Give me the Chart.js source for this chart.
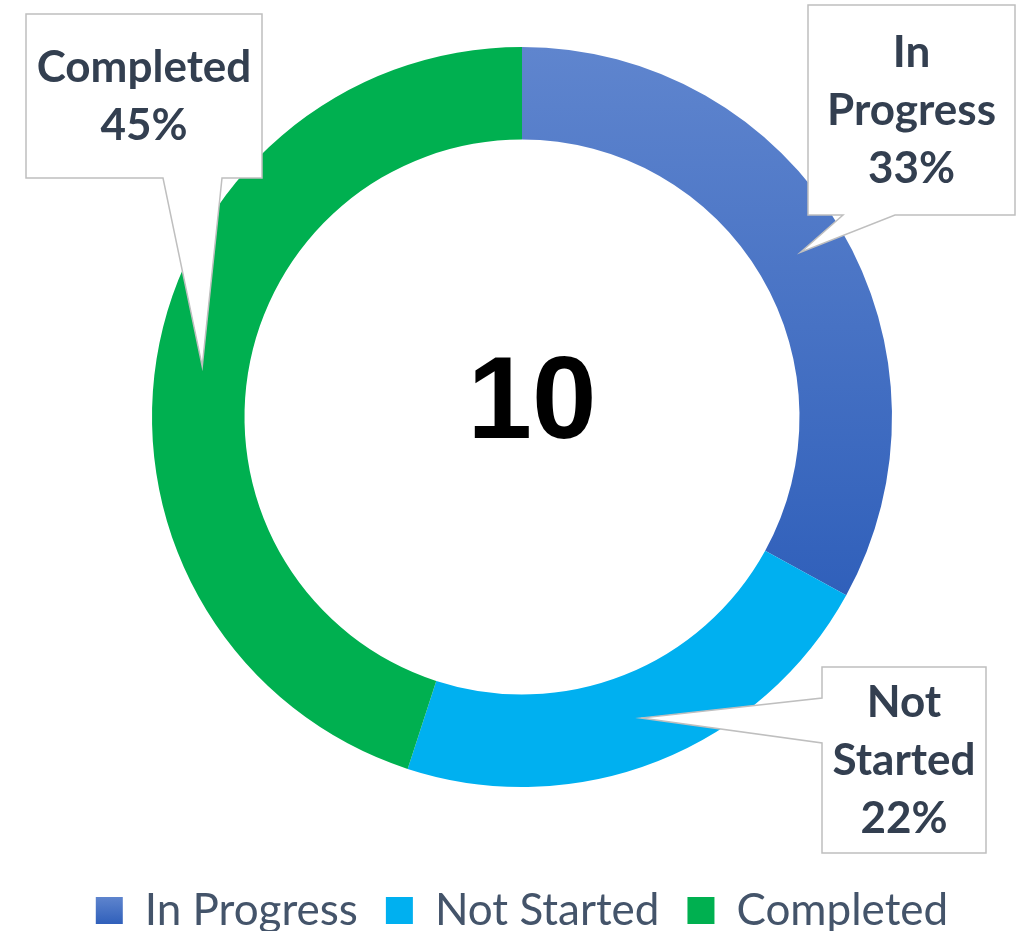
<!DOCTYPE html>
<html lang="en">
<head>
<meta charset="UTF-8">
<title>Task Status</title>
<script src="https://cdn.jsdelivr.net/npm/chart.js"></script>
<style>
  html, body { margin: 0; padding: 0; background: #ffffff; overflow: hidden; }
  .chart-box { width: 1025px; height: 931px; }
</style>
</head>
<body>
<div class="chart-box"><canvas id="statusChart"></canvas></div>
<script>
// task status breakdown
const statusLabels = ['In Progress', 'Not Started', 'Completed'];
const statusShares = [33, 22, 45];
const taskTotal = 10;

const sliceColors = ['#4472c4', '#00b0f0', '#00b050'];
const progressShade = ['#5f85ce', '#2f5fba'];

// callout boxes (canvas px); pointer leaves the box on `edge` between `from` and `to`
const calloutBoxes = [
  { x: 808, y: 5, w: 207, h: 210, edge: 'bottom', from: 843, to: 895, wrap: true },
  { x: 822, y: 667, w: 164, h: 186, edge: 'left', from: 698, to: 743, wrap: true },
  { x: 26, y: 14, w: 236, h: 164, edge: 'bottom', from: 163, to: 222, wrap: false }
];

function shadeProgress(ctx, top, bottom) {
  const g = ctx.createLinearGradient(0, top, 0, bottom);
  g.addColorStop(0, progressShade[0]);
  g.addColorStop(1, progressShade[1]);
  return g;
}

const calloutPlugin = {
  id: 'callouts',
  afterDatasetsDraw(chart) {
    const ctx = chart.ctx;
    const meta = chart.getDatasetMeta(0);
    const total = statusShares.reduce((a, b) => a + b, 0);
    meta.data.forEach((arc, i) => {
      const box = calloutBoxes[i];
      const tip = arc.tooltipPosition();
      const right = box.x + box.w, bottom = box.y + box.h;
      ctx.save();
      ctx.beginPath();
      ctx.moveTo(box.x, box.y);
      ctx.lineTo(right, box.y);
      ctx.lineTo(right, bottom);
      if (box.edge === 'bottom') {
        ctx.lineTo(box.to, bottom);
        ctx.lineTo(tip.x, tip.y);
        ctx.lineTo(box.from, bottom);
        ctx.lineTo(box.x, bottom);
      } else {
        ctx.lineTo(box.x, bottom);
        ctx.lineTo(box.x, box.to);
        ctx.lineTo(tip.x, tip.y);
        ctx.lineTo(box.x, box.from);
      }
      ctx.closePath();
      ctx.fillStyle = '#ffffff';
      ctx.fill();
      ctx.lineWidth = 1.5;
      ctx.lineJoin = 'miter';
      ctx.strokeStyle = '#bfbfbf';
      ctx.stroke();

      const pct = Math.round(statusShares[i] / total * 100) + '%';
      const lines = (box.wrap ? statusLabels[i].split(' ') : [statusLabels[i]]).concat(pct);
      const lineH = 58;
      const midY = box.y + box.h / 2 + 15;
      ctx.fillStyle = '#333f50';
      ctx.font = 'bold 44px Lato';
      ctx.textAlign = 'center';
      ctx.textBaseline = 'alphabetic';
      lines.forEach((t, k) => {
        ctx.fillText(t, box.x + box.w / 2, midY + (k - (lines.length - 1) / 2) * lineH);
      });
      ctx.restore();
    });
  },
  afterDraw(chart) {
    // total in the hole
    const arc = chart.getDatasetMeta(0).data[0];
    if (!arc) return;
    const ctx = chart.ctx;
    ctx.save();
    ctx.fillStyle = '#000000';
    ctx.font = 'bold 116px "Liberation Sans", Arial, sans-serif';
    ctx.textAlign = 'center';
    ctx.textBaseline = 'alphabetic';
    ctx.fillText(String(taskTotal), arc.x + 10, arc.y + 21);
    ctx.restore();
  },
  beforeDraw(chart) {
    // give the first legend swatch its own top-to-bottom shade
    const legend = chart.legend;
    if (!legend || !legend.legendItems || !legend.legendHitBoxes.length) return;
    const hb = legend.legendHitBoxes[0];
    legend.legendItems[0].fillStyle = shadeProgress(chart.ctx, hb.top + 8, hb.top + 36);
  }
};

new Chart(document.getElementById('statusChart'), {
  type: 'doughnut',
  data: {
    labels: statusLabels,
    datasets: [{
      data: statusShares,
      backgroundColor: (c) => {
        if (c.dataIndex !== 0) return sliceColors[c.dataIndex];
        const area = c.chart.chartArea;
        if (!area) return sliceColors[0];
        return shadeProgress(c.chart.ctx, area.top, area.top + 560);
      },
      borderWidth: 0,
      hoverOffset: 0,
      hoverBorderWidth: 0,
      offset: 0
    }]
  },
  options: {
    responsive: true,
    maintainAspectRatio: false,
    animation: false,
    events: [],
    cutout: '75%',
    layout: { padding: { top: 47, left: 19, right: 0, bottom: -11.5 } },
    plugins: {
      tooltip: { enabled: false },
      legend: {
        position: 'bottom',
        title: { display: true, text: '', font: { size: 10 }, padding: { top: 61.5, bottom: 0 } },
        labels: {
          boxWidth: 27,
          boxHeight: 27,
          padding: 28,
          color: '#44546a',
          font: { family: 'Lato', size: 44 }
        }
      }
    }
  },
  plugins: [calloutPlugin]
});
</script>
</body>
</html>
